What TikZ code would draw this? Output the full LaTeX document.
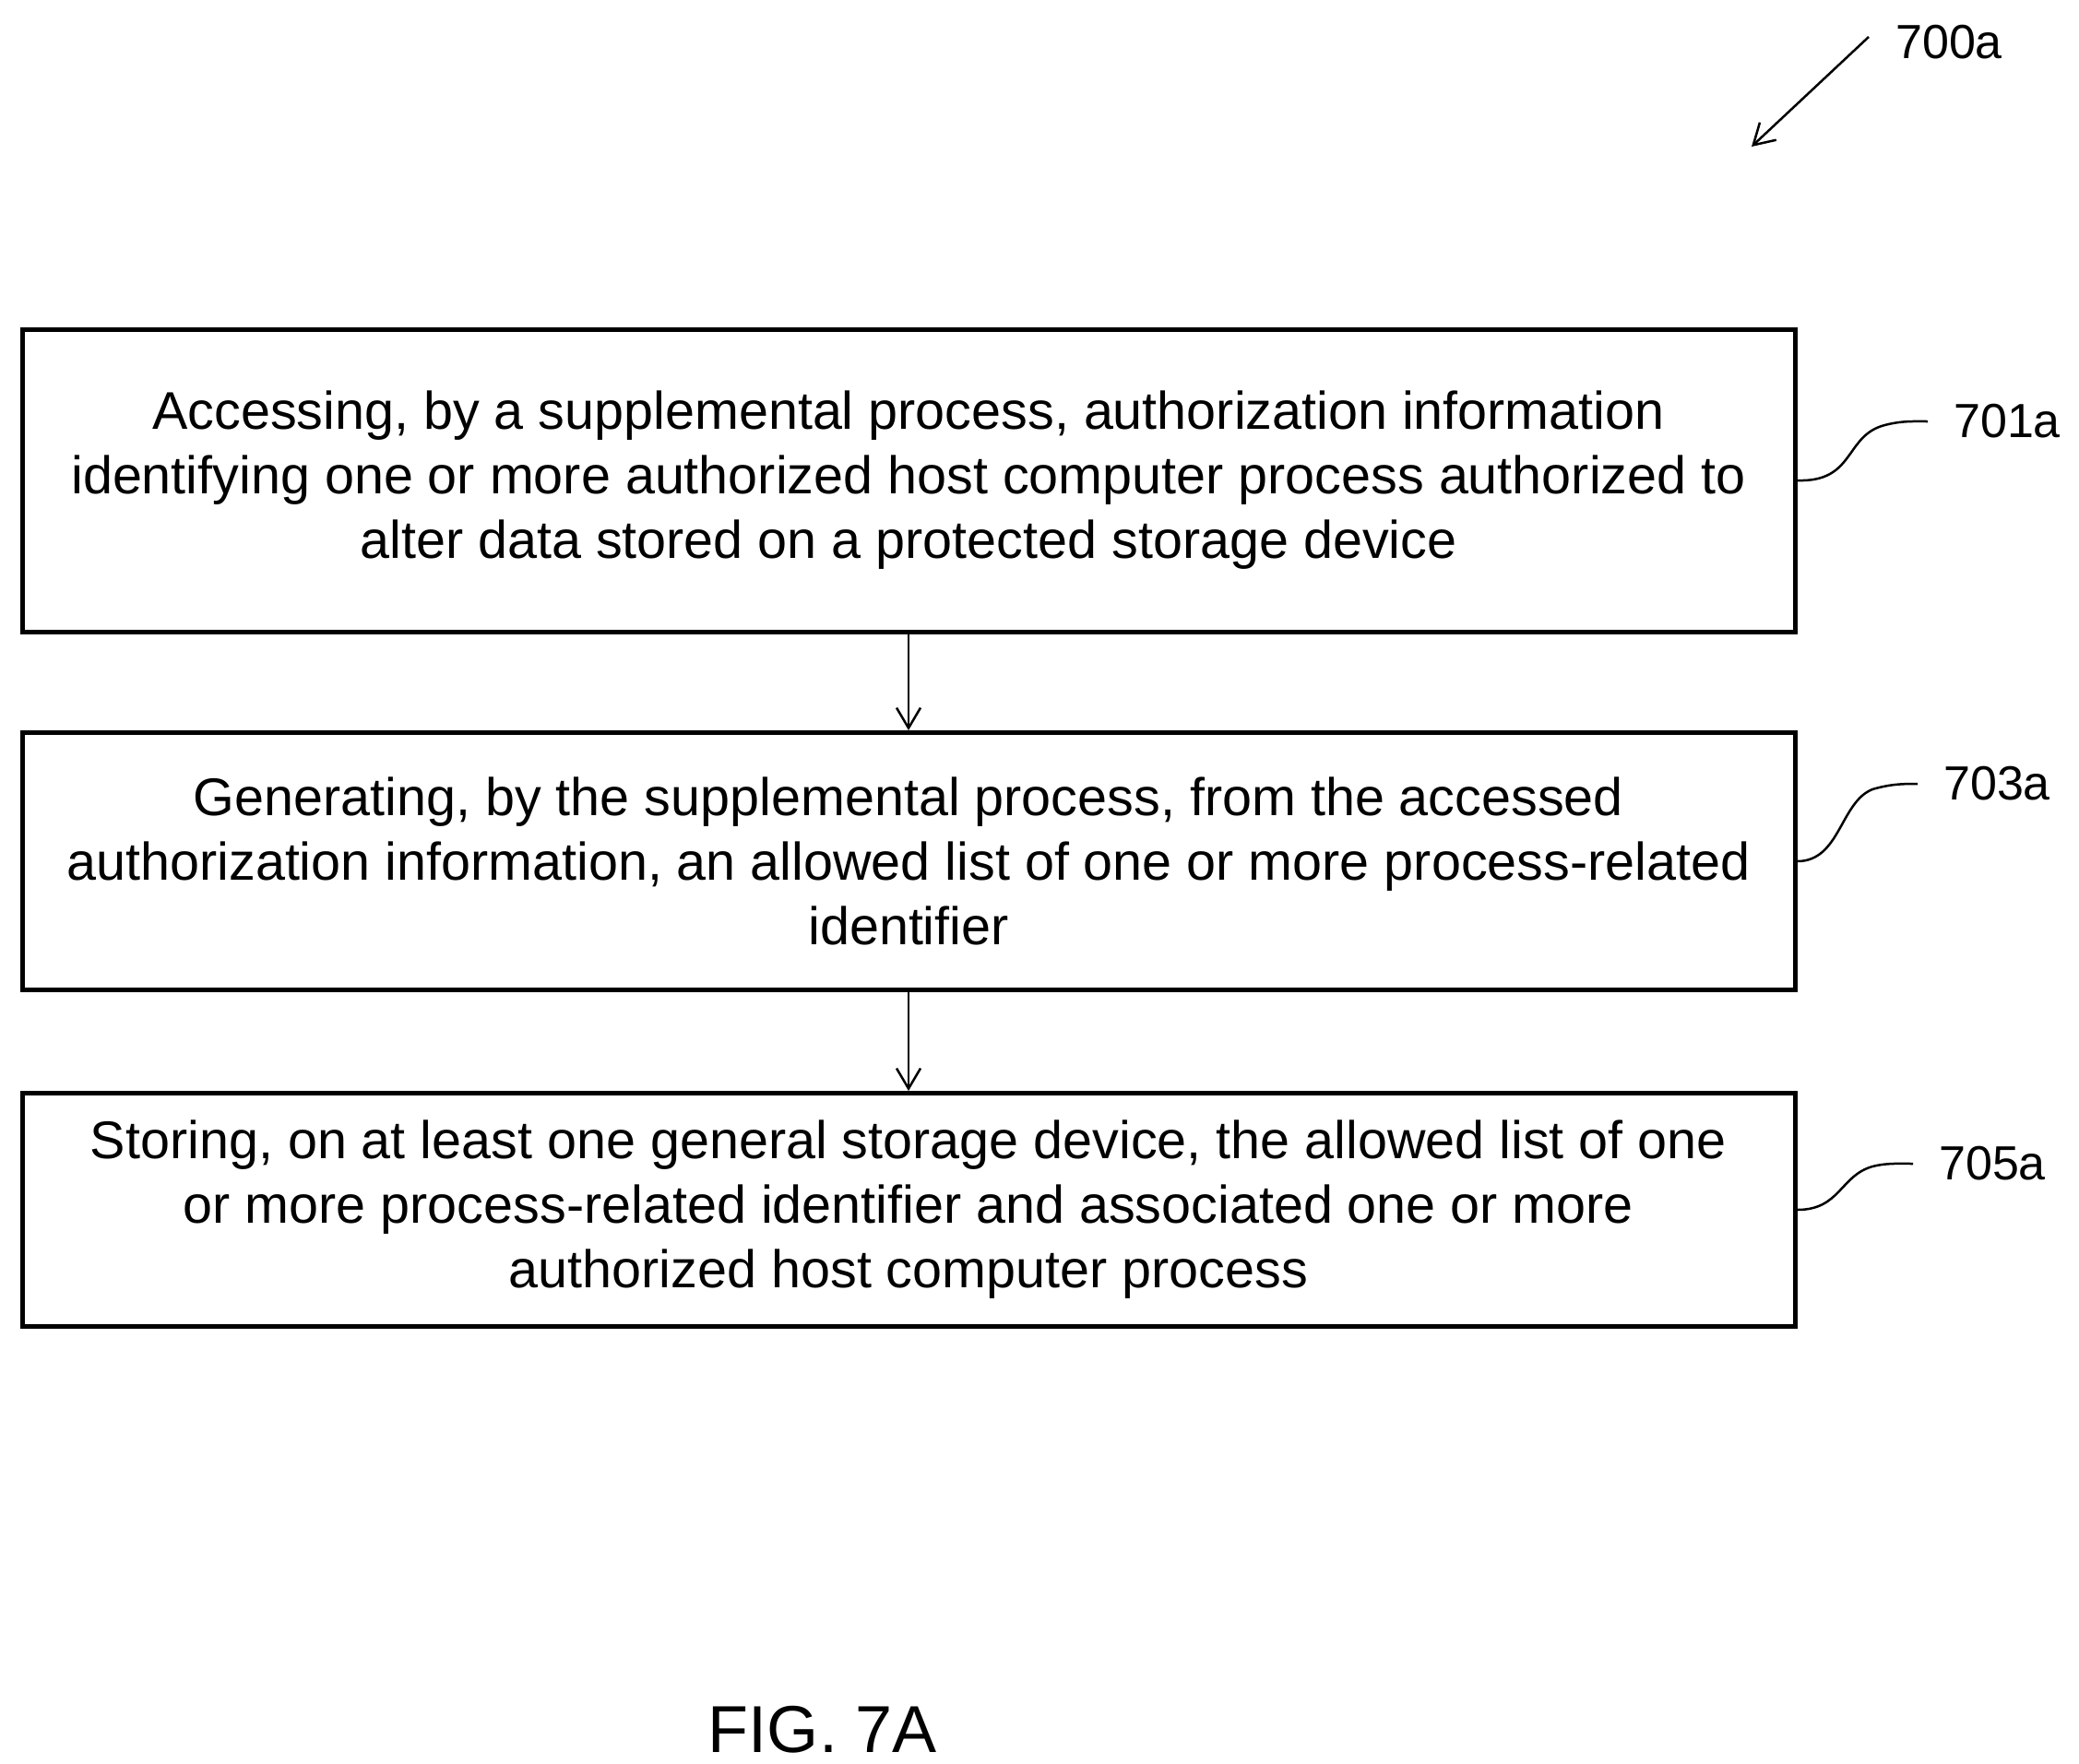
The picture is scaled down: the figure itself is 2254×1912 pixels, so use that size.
\documentclass[tikz,border=0pt]{standalone}
\usepackage{fontspec}
\setmainfont{Liberation Sans}
\usetikzlibrary{arrows.meta}
\begin{document}
\begin{tikzpicture}[x=1pt,y=-1pt,
 box/.style={draw,line width=5pt,minimum width=1922pt,align=center,inner sep=0pt,font=\fontsize{57.5}{70}\selectfont},
 lab/.style={font=\fontsize{52}{60}\selectfont,anchor=west,inner sep=0pt},
 arr/.style={line width=2.5pt,-{Straight Barb[length=22pt,width=26pt]}},
 lead/.style={line width=2.5pt}]
\useasboundingbox (0,0) rectangle (2254,1912);
\node[box,minimum height=328pt] (b1) at (985,521) {Accessing, by a supplemental process, authorization information\\identifying one or more authorized host computer process authorized to\\alter data stored on a protected storage device};
\node[box,minimum height=279pt] (b2) at (985,934) {Generating, by the supplemental process, from the accessed\\authorization information, an allowed list of one or more process-related\\identifier};
\node[box,minimum height=253pt] (b3) at (985,1312) {Storing, on at least one general storage device, the allowed list of one\\or more process-related identifier and associated one or more\\authorized host computer process};
\draw[arr] (b1.south) -- (b2.north);
\draw[arr] (b2.south) -- (b3.north);
\node[lab] (l1) at (2118,457) {701a};
\node[lab] (l3) at (2107,850) {703a};
\node[lab] (l5) at (2102,1262) {705a};
\draw[lead] (b1.east) .. controls (2010,523) and (2000,475) .. (2040,462) .. controls (2060,456) and (2075,457) .. ([xshift=-28pt]l1.west);
\draw[lead] (b2.east) .. controls (1995,934) and (1995,870) .. (2030,856) .. controls (2050,850) and (2065,850) .. ([xshift=-28pt]l3.west);
\draw[lead] (b3.east) .. controls (1995,1312) and (1995,1275) .. (2030,1265) .. controls (2045,1261) and (2060,1262) .. ([xshift=-28pt]l5.west);
\node[lab] (l0) at (2055,46) {700a};
\coordinate (a0) at (2026,40);
\coordinate (a1) at (1899,159);
\draw[arr] (a0) -- (a1);
\node[font=\fontsize{72}{80}\selectfont] (fig) at (892,1876) {FIG. 7A};
\end{tikzpicture}
\end{document}
